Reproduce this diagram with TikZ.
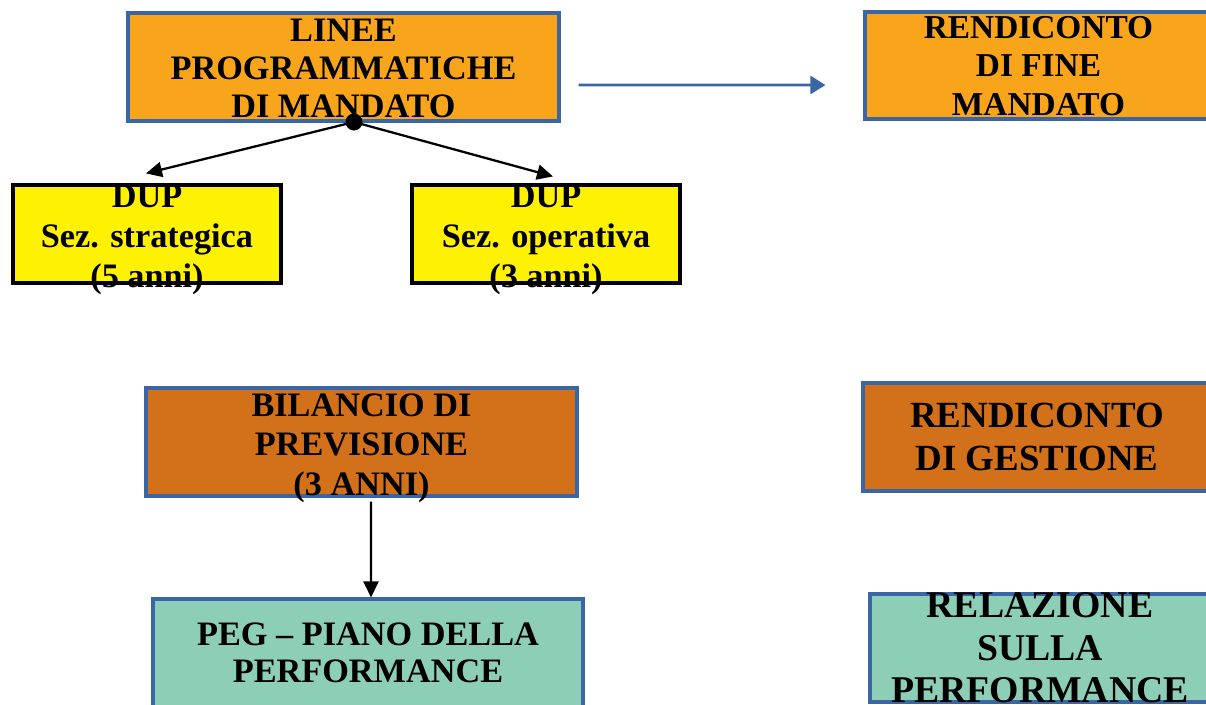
\documentclass[tikz,border=0pt]{standalone}
\usepackage{fontspec}
\setmainfont{Liberation Serif}
\usepackage{xcolor}
\definecolor{mandOrange}{HTML}{F8A51C}
\definecolor{gestOrange}{HTML}{D3701A}
\definecolor{dupYellow}{HTML}{FFF200}
\definecolor{perfTeal}{HTML}{8DCFB6}
\definecolor{frameBlue}{HTML}{3B66A6}
\usepackage{tikz}
\usetikzlibrary{calc,arrows.meta}

\begin{document}
\begin{tikzpicture}[x=0.02cm, y=-0.02cm, >={Triangle[length=0.32cm,width=0.3cm]},
  box/.style={draw=frameBlue, line width=1.8pt, inner sep=0pt, minimum height=2.16cm},
  boxtext/.style={align=center, inner sep=0pt, font=\bfseries\fontsize{19.5}{21.8}\selectfont}]
  \useasboundingbox (0,0) rectangle (1206,704);
  \clip (0,0) rectangle (1206,704);

  % ---- mandate (top row) ----
  \node[box, fill=mandOrange, minimum width=8.62cm] (linee) at (343.5,67) {};
  \node[boxtext] (lineeT) at ($(linee)+(0,1.5)$) {LINEE\\PROGRAMMATICHE\\DI MANDATO};
  \node[box, fill=mandOrange, minimum width=6.94cm, minimum height=2.14cm] (fine) at (1038.5,65.5) {};
  \node[boxtext, font=\bfseries\fontsize{19}{22}\selectfont] (fineT) at ($(fine)+(0,0.5)$) {RENDICONTO\\DI FINE\\MANDATO};
  \draw[->, frameBlue, line width=1.6pt, >={Triangle[length=0.3cm,width=0.36cm]}]
    ($(linee.east)+(18,18)$) -- ($(fine.west)+(-38,19.5)$);

  % ---- DUP ----
  \node[box, draw=black, fill=dupYellow, minimum width=5.36cm, minimum height=1.96cm] (dupS) at (147,234) {};
  \node[boxtext, font=\bfseries\fontsize{19.5}{22.7}\selectfont] (dupST) at ($(dupS)+(0,6)$) {DUP\\Sez. strategica\\(5 anni)};
  \node[box, draw=black, fill=dupYellow, minimum width=5.36cm, minimum height=1.96cm] (dupO) at (546,234) {};
  \node[boxtext, font=\bfseries\fontsize{19.5}{22.7}\selectfont] (dupOT) at ($(dupO)+(0,6)$) {DUP\\Sez. operativa\\(3 anni)};
  \node[circle, fill=black, inner sep=0pt, minimum size=0.34cm] (dot) at (354,122) {};
  \draw[->, line width=1.3pt] (dot.center) -- ($(dupS.north)+(-1,-10)$);
  \draw[->, line width=1.3pt] (dot.center) -- ($(dupO.north)+(7,-7)$);

  % ---- management ----
  \node[box, fill=gestOrange, minimum width=8.62cm] (bil) at (361.5,442) {};
  \node[boxtext, font=\bfseries\fontsize{19.5}{22.4}\selectfont] (bilT) at ($(bil)+(0,6)$) {BILANCIO DI\\PREVISIONE\\(3 ANNI)};
  \node[box, fill=gestOrange, minimum width=6.96cm] (gest) at (1037,437) {};
  \node[boxtext, font=\bfseries\fontsize{21}{24.4}\selectfont] (gestT) at (gest) {RENDICONTO\\DI GESTIONE};

  % ---- performance ----
  \node[box, fill=perfTeal, minimum width=8.6cm] (peg) at (368,653) {};
  \node[boxtext, font=\bfseries\fontsize{19.5}{21}\selectfont] (pegT) at (peg) {PEG -- PIANO DELLA\\PERFORMANCE};
  \draw[->, line width=1.4pt] ($(bil.south)+(9.5,4)$) -- ($(peg.north)+(3,0)$);
  \node[box, fill=perfTeal, minimum width=6.8cm] (rel) at (1040,648) {};
  \node[boxtext, font=\bfseries\fontsize{21.5}{24.1}\selectfont] (relT) at (rel) {RELAZIONE\\SULLA\\PERFORMANCE};
\end{tikzpicture}
\end{document}
